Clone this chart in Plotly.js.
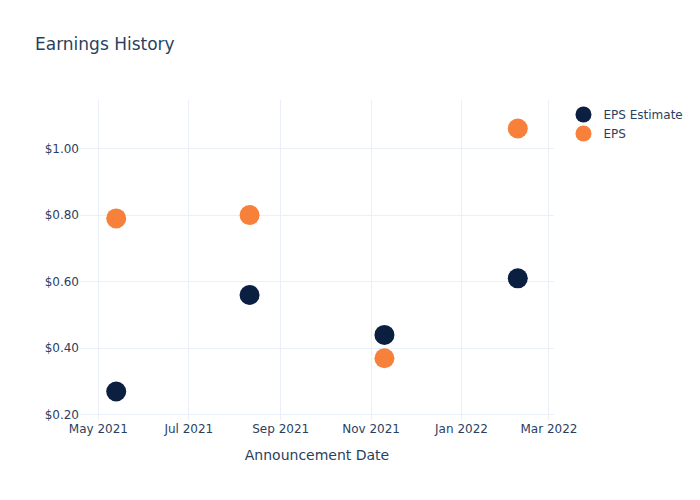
<!DOCTYPE html>
<html>
<head>
<meta charset="utf-8">
<script src="https://cdn.plot.ly/plotly-3.0.1.min.js"></script>
<style>html,body{margin:0;padding:0;background:#fff;}</style>
</head>
<body>
<div id="chart" style="width:700px;height:500px;"></div>
<script>
const dates = ["2021-05-13", "2021-08-11", "2021-11-10", "2022-02-08"];
const epsEstimate = [0.27, 0.56, 0.44, 0.61];
const eps = [0.79, 0.80, 0.37, 1.06];

const data = [
  {x: dates, y: epsEstimate, name: "EPS Estimate", type: "scatter", mode: "markers",
   marker: {size: 20, color: "#0b1f41"}},
  {x: dates, y: eps, name: "EPS", type: "scatter", mode: "markers",
   marker: {size: 20, color: "#f7813a"}}
];

const layout = {
  template: "plotly_white",
  width: 700, height: 500,
  title: {text: "Earnings History", x: 0.05, xanchor: "left"},
  paper_bgcolor: "#fff", plot_bgcolor: "#fff",
  xaxis: {title: {text: "Announcement Date", standoff: 15}, automargin: true, type: "date", gridcolor: "#EBF0F8"},
  yaxis: {tickformat: "$.2f", dtick: 0.2, gridcolor: "#EBF0F8", zeroline: false, automargin: true},
  font: {family: '"DejaVu Sans", verdana, arial, sans-serif', color: "#2a3f5f"}
};

Plotly.newPlot("chart", data, layout, {displayModeBar: false});
</script>
</body>
</html>
